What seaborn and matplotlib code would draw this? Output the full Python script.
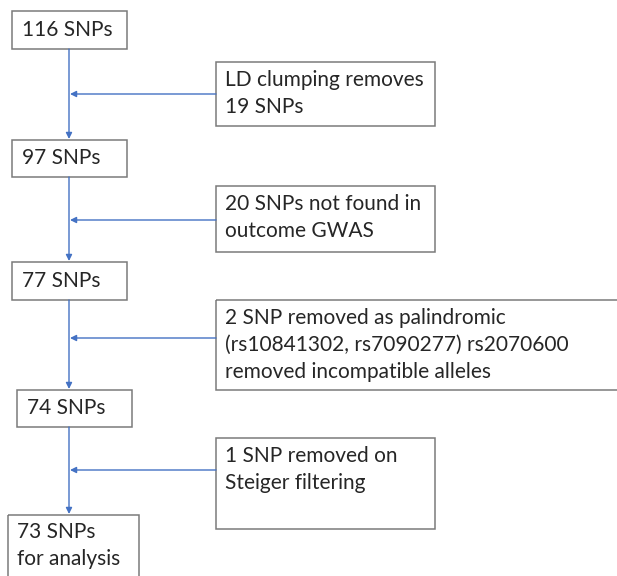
import matplotlib.pyplot as plt
import matplotlib.patches as mpatches
import seaborn as sns

# flowchart content
step_labels = ["116 SNPs", "97 SNPs", "77 SNPs", "74 SNPs", "73 SNPs\nfor analysis"]
removal_labels = [
    "LD clumping removes\n19 SNPs",
    "20 SNPs not found in\noutcome GWAS",
    "2 SNP removed as palindromic\n(rs10841302, rs7090277) rs2070600\nremoved incompatible alleles",
    "1 SNP removed on\nSteiger filtering",
]

# layout in pixels (x0, y0, x1, y1)
step_boxes = [(12, 11, 127, 49), (12, 140, 127, 177), (12, 262, 127, 300),
              (17, 390, 132, 427), (8, 515, 139, 590)]
removal_boxes = [(216, 62, 435, 126), (216, 186, 435, 252),
                 (216, 300, 622, 390), (216, 438, 435, 529)]
arrow_y = [94, 220, 338, 470]
spine_x = 69

sns.set_theme(style="white")
plt.rcParams['font.family'] = ['Lato', 'DejaVu Sans']

fig = plt.figure(figsize=(6.17, 5.76), dpi=100)
ax = fig.add_axes([0, 0, 1, 1])
ax.set_xlim(0, 617)
ax.set_ylim(576, 0)
ax.axis('off')

blue = '#4472C4'
edge = '#7a7a7a'
fs = 15
line_h = 27


def draw_box(b):
    x0, y0, x1, y1 = b
    ax.add_patch(mpatches.Rectangle((x0, y0), x1 - x0, y1 - y0, fill=False,
                                    edgecolor=edge, lw=1.1, zorder=3))


def draw_lines(x, y_first, label):
    # y_first is the visual centre of the first line
    for i, line in enumerate(label.split("\n")):
        ax.text(x, y_first + i * line_h + 6, line, fontsize=fs, va='baseline',
                ha='left', color='#262626')


for lab, b in zip(step_labels, step_boxes):
    draw_box(b)
    if "\n" in lab:
        draw_lines(b[0] + 9, b[1] + 17, lab)
    else:
        draw_lines(b[0] + 10, (b[1] + b[3]) / 2, lab)

for lab, b in zip(removal_labels, removal_boxes):
    draw_box(b)
    draw_lines(b[0] + 9, b[1] + 18, lab)

arrow_kw = dict(arrowstyle='-|>', color=blue, lw=1.0, mutation_scale=9,
                shrinkA=0, shrinkB=0)

# vertical connectors between steps
for top, bottom in zip(step_boxes[:-1], step_boxes[1:]):
    ax.annotate('', xy=(spine_x, bottom[1] - 1), xytext=(spine_x, top[3]),
                arrowprops=arrow_kw)

# horizontal connectors from removal boxes
for y, b in zip(arrow_y, removal_boxes):
    ax.annotate('', xy=(spine_x + 1, y), xytext=(b[0], y), arrowprops=arrow_kw)

plt.savefig('out.png', dpi=100)
